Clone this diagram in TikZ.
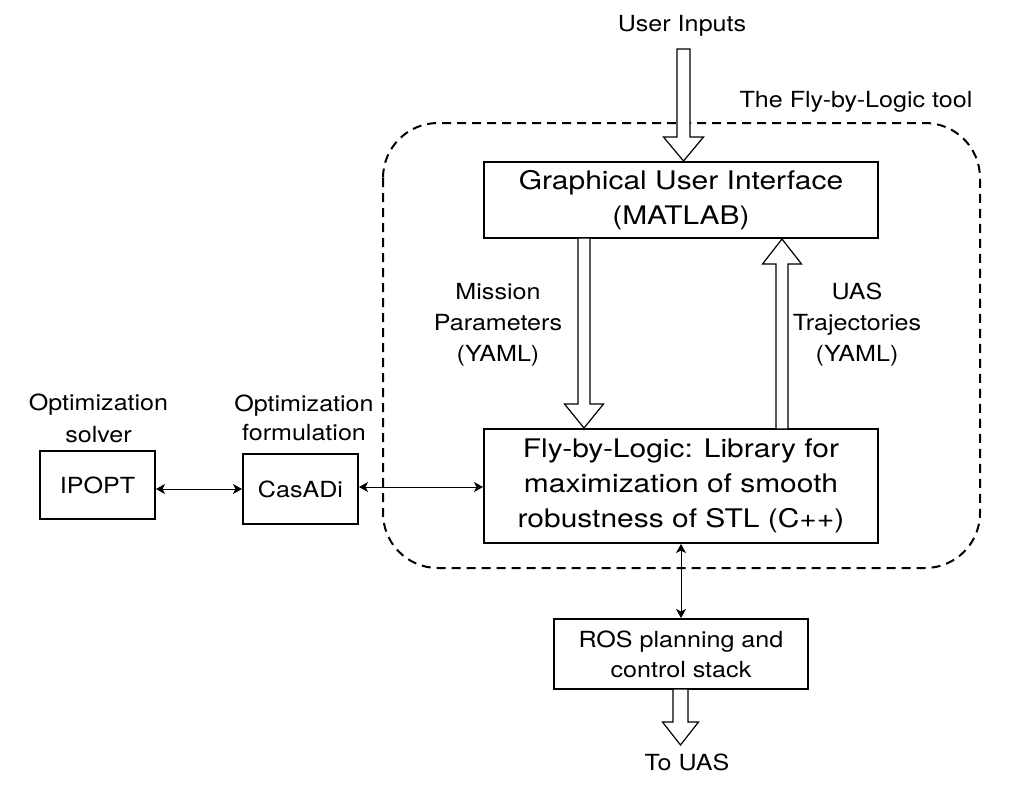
\documentclass[tikz,border=0pt]{standalone}
\usepackage{fontspec}
\setmainfont{TeX Gyre Heros}[FakeStretch=1.13]
\newfontfamily\bigfam{TeX Gyre Heros}[FakeStretch=1.17]
\usetikzlibrary{arrows.meta,calc}
\tikzset{
  box/.style={draw, line width=1pt, fill=white, align=center, inner sep=2pt},
  bigbox/.style={box, font=\bigfam\fontsize{12.8}{17.5}\selectfont},
  lbl/.style={align=center, inner sep=0pt},
  thinarrow/.style={line width=0.5pt, {Stealth[length=4.5pt,width=5pt,inset=1.2pt]}-{Stealth[length=4.5pt,width=5pt,inset=1.2pt]}},
  blockarrow/.style={draw, line width=0.6pt, fill=white, line join=miter},
  region/.style={draw, dash pattern=on 4.5pt off 3pt, line width=1pt, rounded corners=27.5pt}
}
% #1 start, #2 tip, #3 half shaft, #4 half head, #5 head length
\newcommand{\vblockarrow}[5]{%
  \path[blockarrow] let \p1=(#1), \p2=(#2), \n1={ifthenelse(\y2<\y1,1,-1)} in
    (\x1-#3,\y1) -- (\x1-#3,\y2+\n1*#5) -- (\x1-#4,\y2+\n1*#5) -- (\x2,\y2)
    -- (\x1+#4,\y2+\n1*#5) -- (\x1+#3,\y2+\n1*#5) -- (\x1+#3,\y1) -- cycle;}
\begin{document}
\begin{tikzpicture}[x=0.5pt,y=-0.5pt, font=\fontsize{11.1}{15.5}\selectfont]
\useasboundingbox (0,0) rectangle (1016,789);
% region
\draw[region] (383,123) rectangle (980,568);
\node[lbl, anchor=base] (tooltitle) at (856,107) {The Fly-by-Logic tool};
% boxes
\node[bigbox, minimum width=197pt, minimum height=38pt] (gui) at (681,200) {Graphical User Interface\\(MATLAB)};
\node[bigbox, minimum width=197pt, minimum height=57pt] (lib) at (681,486) {Fly-by-Logic: Library for\\maximization of smooth\\robustness of STL (C++)};
\node[box, minimum width=57.5pt, minimum height=34pt] (ipopt) at (97.5,485) {IPOPT};
\node[box, minimum width=57.5pt, minimum height=35pt] (casadi) at (300.5,489) {CasADi};
\node[box, minimum width=127pt, minimum height=35pt, font=\fontsize{11.1}{15}\selectfont] (ros) at (681,654) {ROS planning and\\control stack};
% labels
\node[lbl, anchor=base] (userin) at (682,31) {User Inputs};
\node[lbl] (mission) at (498,325) {Mission\\Parameters\\(YAML)};
\node[lbl] (traj) at (857,325) {UAS\\Trajectories\\(YAML)};
\node[lbl, font=\fontsize{11.1}{16}\selectfont] (solver) at (98.5,418) {Optimization\\solver};
\node[lbl, font=\fontsize{11.1}{14.5}\selectfont] (formul) at (304,418) {Optimization\\formulation};
\node[lbl, anchor=base] (touas) at (687,770) {To UAS};
% coordinates
\coordinate (uastart) at (683.5,49);
\coordinate (msstart) at (584,238);
\coordinate (trstart) at (782,429);
\coordinate (rostart) at (680.5,689);
\coordinate (rotip) at (680.5,745);
% block arrows
\vblockarrow{uastart}{gui.north -| uastart}{3.25pt}{10pt}{12pt}
\vblockarrow{msstart}{lib.north -| msstart}{3pt}{9.75pt}{12pt}
\vblockarrow{trstart}{gui.south -| trstart}{3pt}{9.75pt}{12.5pt}
\vblockarrow{rostart}{rotip}{3.75pt}{9pt}{11.5pt}
% thin arrows
\draw[thinarrow] (ipopt.east |- casadi.west) -- (casadi.west);
\draw[thinarrow] (casadi.east |- 0,487) -- (lib.west |- 0,487);
\draw[thinarrow] (ros.north |- lib.south) -- (ros.north);
\end{tikzpicture}
\end{document}
